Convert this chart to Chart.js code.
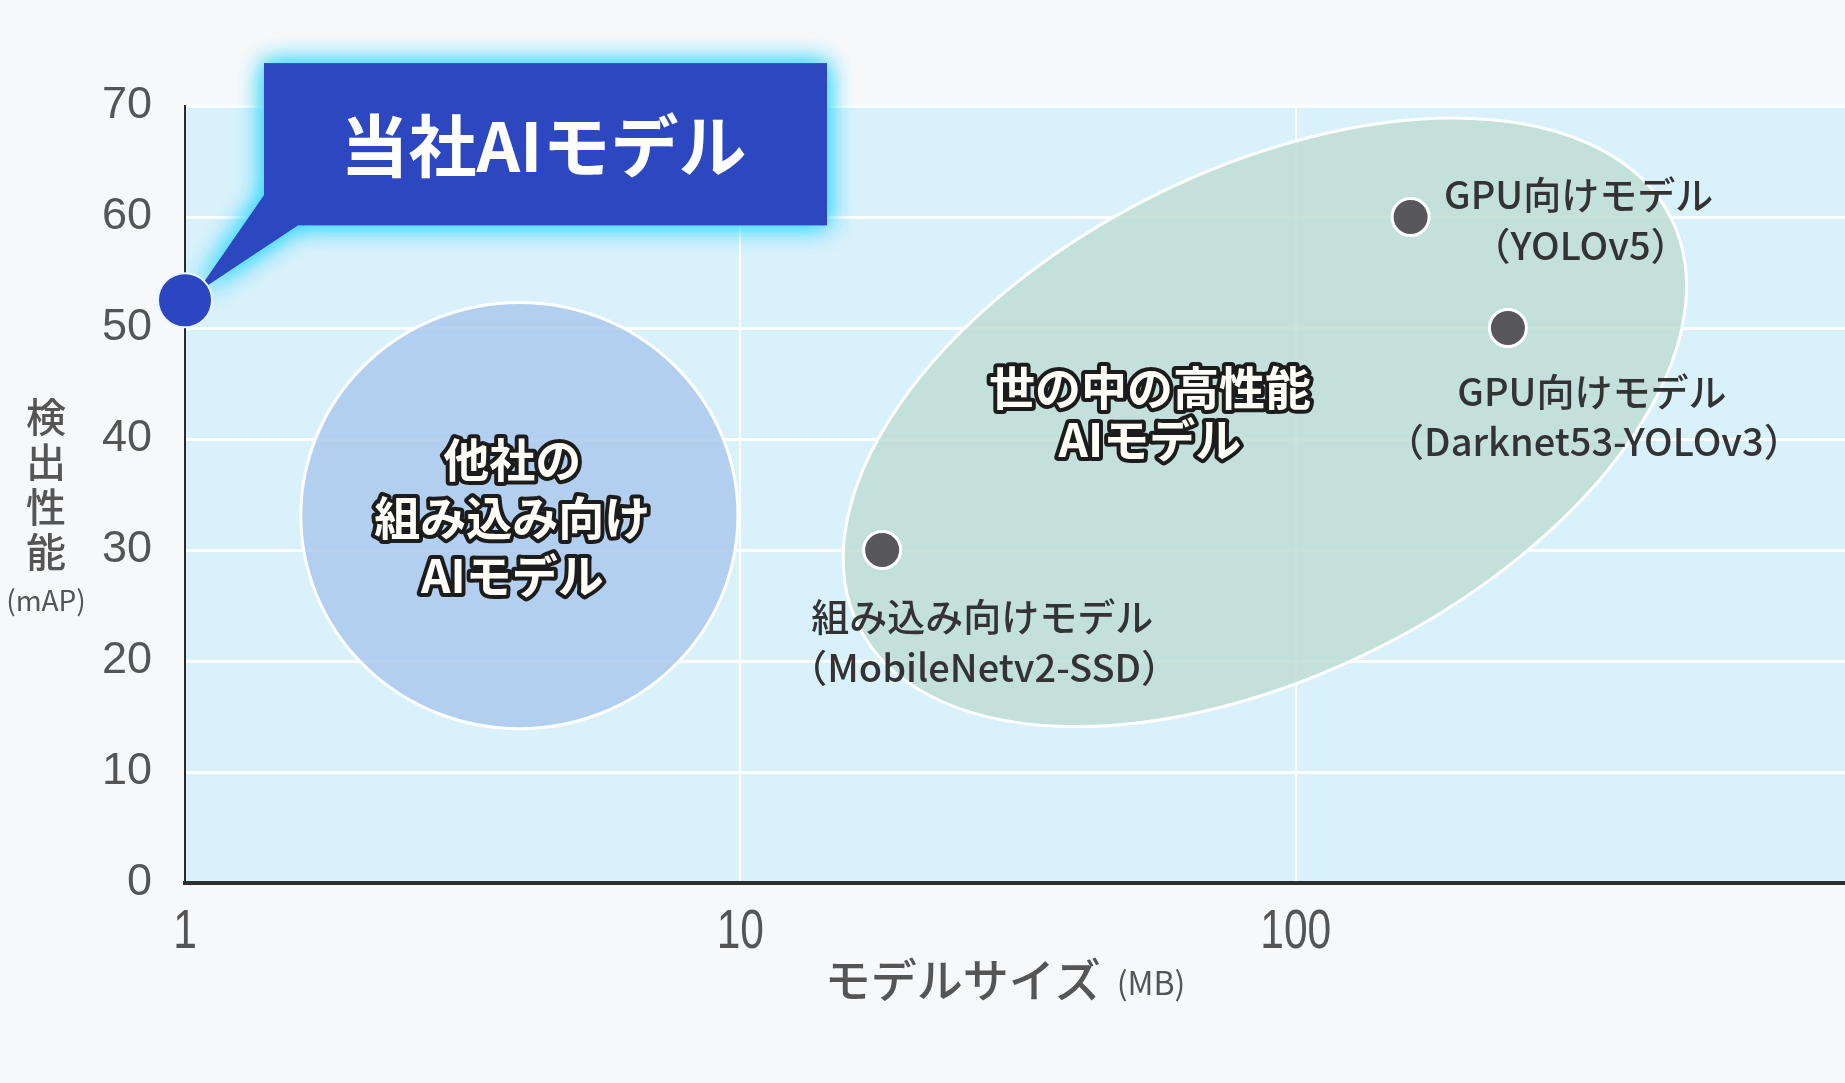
<!DOCTYPE html>
<html lang="ja">
<head>
<meta charset="utf-8">
<title>モデルサイズと検出性能</title>
<script src="https://cdn.jsdelivr.net/npm/chart.js@4.4.1/dist/chart.umd.min.js"></script>
<style>
  html, body { margin: 0; padding: 0; background: #f7f8fa; }
  #wrap { width: 1845px; height: 1083px; position: relative; }
</style>
</head>
<body>
<div id="wrap"><canvas id="chart" width="1845" height="1083"></canvas></div>
<script>
// model size (MB, log) vs detection performance (mAP)
const ourName = '当社AIモデル';
const ourSize = [1];
const ourMap = [52.5];

const modelLine1 = ['GPU向けモデル', 'GPU向けモデル', '組み込み向けモデル'];
const modelLine2 = ['（YOLOv5）', '（Darknet53-YOLOv3）', '（MobileNetv2-SSD）'];
const modelSize = [161, 241, 18];
const modelMap = [60, 50, 30];

// groups drawn as ellipses: centre, end of one axis, end of the other axis (data units)
const groupText = [['他社の', '組み込み向け', 'AIモデル'], ['世の中の高性能', 'AIモデル']];
const groupCenter = [[4, 33.1], [88, 41.5]];
const groupAxisA = [[9.9, 33.1], [474, 59.9]];
const groupAxisB = [[4, 52.3], [141, 21.2]];

const xTicks = [1, 10, 100];
const yTicks = [0, 10, 20, 30, 40, 50, 60, 70];

const xTitle = 'モデルサイズ';
const xUnit = '(MB)';
const yTitle = '検出性能';
const yUnit = '(mAP)';

// styling
const JP = '"Noto Sans CJK JP", "Noto Sans", sans-serif';
const NUM = '"Liberation Sans", Arial, sans-serif';
const groupFill = ['rgba(172, 201, 236, 0.86)', 'rgba(192, 221, 212, 0.86)'];
const groupShift = [[-7, 2], [-115, -9]];   // label offset from ellipse centre, px
const groupGap = [58, 52];
const modelOffset = [[168, -22, 29], [84, 64, 114], [100, 67, 118]]; // dx, dy line1, dy line2

const plotBg = {
  id: 'plotBg',
  beforeDraw(chart) {
    const { ctx, chartArea: a } = chart;
    ctx.save();
    ctx.fillStyle = '#d9f1fb';
    ctx.fillRect(a.left, a.top, a.right - a.left, a.bottom - a.top);
    ctx.restore();
  }
};

function outlinedText(ctx, text, x, y) {
  ctx.lineJoin = 'round';
  ctx.lineWidth = 8;
  ctx.strokeStyle = '#1c1c1c';
  ctx.strokeText(text, x, y);
  ctx.fillStyle = '#fffdf8';
  ctx.fillText(text, x, y);
}

const groups = {
  id: 'groups',
  beforeDatasetsDraw(chart) {
    const { ctx, scales: { x, y } } = chart;
    const px = p => [x.getPixelForValue(p[0]), y.getPixelForValue(p[1])];
    groupCenter.forEach((c, i) => {
      const [cx, cy] = px(c);
      const [ax, ay] = px(groupAxisA[i]);
      const [bx, by] = px(groupAxisB[i]);
      const ra = Math.hypot(ax - cx, ay - cy);
      const rb = Math.hypot(bx - cx, by - cy);
      const rot = Math.atan2(ay - cy, ax - cx);
      ctx.save();
      ctx.beginPath();
      ctx.ellipse(cx, cy, ra, rb, rot, 0, Math.PI * 2);
      ctx.fillStyle = groupFill[i];
      ctx.fill();
      ctx.lineWidth = 3;
      ctx.strokeStyle = '#ffffff';
      ctx.stroke();

      const lines = groupText[i];
      const lx = cx + groupShift[i][0];
      const ly0 = cy + groupShift[i][1] - (lines.length - 1) * groupGap[i] / 2;
      ctx.font = 'bold 46px ' + JP;
      ctx.textAlign = 'center';
      ctx.textBaseline = 'middle';
      lines.forEach((t, k) => outlinedText(ctx, t, lx, ly0 + k * groupGap[i]));
      ctx.restore();
    });

    // callout for our model
    const pt = chart.getDatasetMeta(0).data[0];
    const L = pt.x + 79, R = pt.x + 642, T = pt.y - 237, B = pt.y - 75;
    ctx.save();
    ctx.beginPath();
    ctx.moveTo(L, T);
    ctx.lineTo(R, T);
    ctx.lineTo(R, B);
    ctx.lineTo(pt.x + 113, B);
    ctx.lineTo(pt.x + 12, pt.y - 8);
    ctx.lineTo(L, pt.y - 105);
    ctx.closePath();
    ctx.shadowColor = 'rgba(50, 215, 255, 0.95)';
    ctx.shadowBlur = 24;
    ctx.fillStyle = '#2c47c0';
    ctx.fill();
    ctx.fill();
    ctx.shadowBlur = 0;
    ctx.font = 'bold 68px ' + JP;
    ctx.textAlign = 'center';
    ctx.textBaseline = 'middle';
    ctx.fillStyle = '#ffffff';
    ctx.fillText(ourName, (L + R) / 2 - 2, (T + B) / 2 + 2);
    ctx.restore();
  }
};

const pointLabels = {
  id: 'pointLabels',
  afterDatasetsDraw(chart) {
    const { ctx } = chart;
    const pts = chart.getDatasetMeta(1).data;
    ctx.save();
    ctx.font = '500 38px ' + JP;
    ctx.fillStyle = '#333333';
    ctx.textAlign = 'center';
    ctx.textBaseline = 'middle';
    pts.forEach((p, i) => {
      const o = modelOffset[i];
      ctx.fillText(modelLine1[i], p.x + o[0], p.y + o[1]);
      ctx.fillText(modelLine2[i], p.x + o[0] + 2, p.y + o[2]);
    });
    ctx.restore();
  }
};

const axisTitles = {
  id: 'axisTitles',
  afterDraw(chart) {
    const { ctx, chartArea: a, scales: { x } } = chart;
    ctx.save();
    ctx.fillStyle = '#555555';

    // x tick labels, narrow digits
    ctx.font = '56px ' + NUM;
    ctx.textAlign = 'center';
    ctx.textBaseline = 'alphabetic';
    xTicks.forEach(v => {
      ctx.save();
      ctx.translate(x.getPixelForValue(v), a.bottom + 65);
      ctx.scale(0.76, 1);
      ctx.fillText(String(v), 0, 0);
      ctx.restore();
    });

    ctx.textBaseline = 'middle';
    // vertical y title
    ctx.font = '500 40px ' + JP;
    [...yTitle].forEach((ch, k) => ctx.fillText(ch, a.left - 139, a.top + 311 + k * 45));
    ctx.font = '28px ' + JP;
    ctx.fillText(yUnit, a.left - 139, a.top + 494);

    // x title with smaller unit
    ctx.font = '500 46px ' + JP;
    const w1 = ctx.measureText(xTitle).width;
    ctx.font = '32px ' + JP;
    const w2 = ctx.measureText(xUnit).width;
    const gap = 16;
    const start = (a.left + a.right) / 2 - (w1 + gap + w2) / 2 - 10;
    const ty = a.bottom + 97;
    ctx.textAlign = 'left';
    ctx.font = '500 46px ' + JP;
    ctx.fillText(xTitle, start, ty);
    ctx.font = '32px ' + JP;
    ctx.fillText(xUnit, start + w1 + gap, ty + 3);
    ctx.restore();
  }
};

new Chart(document.getElementById('chart'), {
  type: 'scatter',
  data: {
    datasets: [
      {
        label: ourName,
        data: ourSize.map((v, i) => ({ x: v, y: ourMap[i] })),
        pointRadius: 27,
        pointHoverRadius: 27,
        backgroundColor: '#2b46c0',
        borderColor: '#e6f7ff',
        borderWidth: 2,
        clip: false
      },
      {
        label: 'others',
        data: modelSize.map((v, i) => ({ x: v, y: modelMap[i] })),
        pointRadius: 18.5,
        pointHoverRadius: 18.5,
        backgroundColor: '#58585b',
        borderColor: '#ffffff',
        borderWidth: 3,
        clip: false
      }
    ]
  },
  options: {
    responsive: false,
    animation: false,
    layout: { autoPadding: false, padding: { top: 106, right: 0, left: 0, bottom: 0 } },
    plugins: { legend: { display: false }, tooltip: { enabled: false } },
    scales: {
      x: {
        type: 'logarithmic',
        min: 1,
        max: 975,
        afterBuildTicks: s => { s.ticks = xTicks.map(v => ({ value: v })); },
        afterFit: s => { s.height = 200; },
        ticks: { display: false },
        grid: {
          drawTicks: false,
          lineWidth: 2,
          color: c => (c.tick && c.tick.value === 1 ? 'rgba(0,0,0,0)' : '#ffffff')
        },
        border: { color: '#2e2e30', width: 4 }
      },
      y: {
        min: 0,
        max: 70,
        afterBuildTicks: s => { s.ticks = yTicks.map(v => ({ value: v })); },
        afterFit: s => { s.width = 185; },
        ticks: {
          color: '#555555',
          padding: 33,
          font: { family: NUM, size: 45 }
        },
        grid: { drawTicks: false, lineWidth: 3, color: '#ffffff' },
        border: { color: '#2a2a2c', width: 2 }
      }
    }
  },
  plugins: [plotBg, groups, pointLabels, axisTitles]
});
</script>
</body>
</html>
